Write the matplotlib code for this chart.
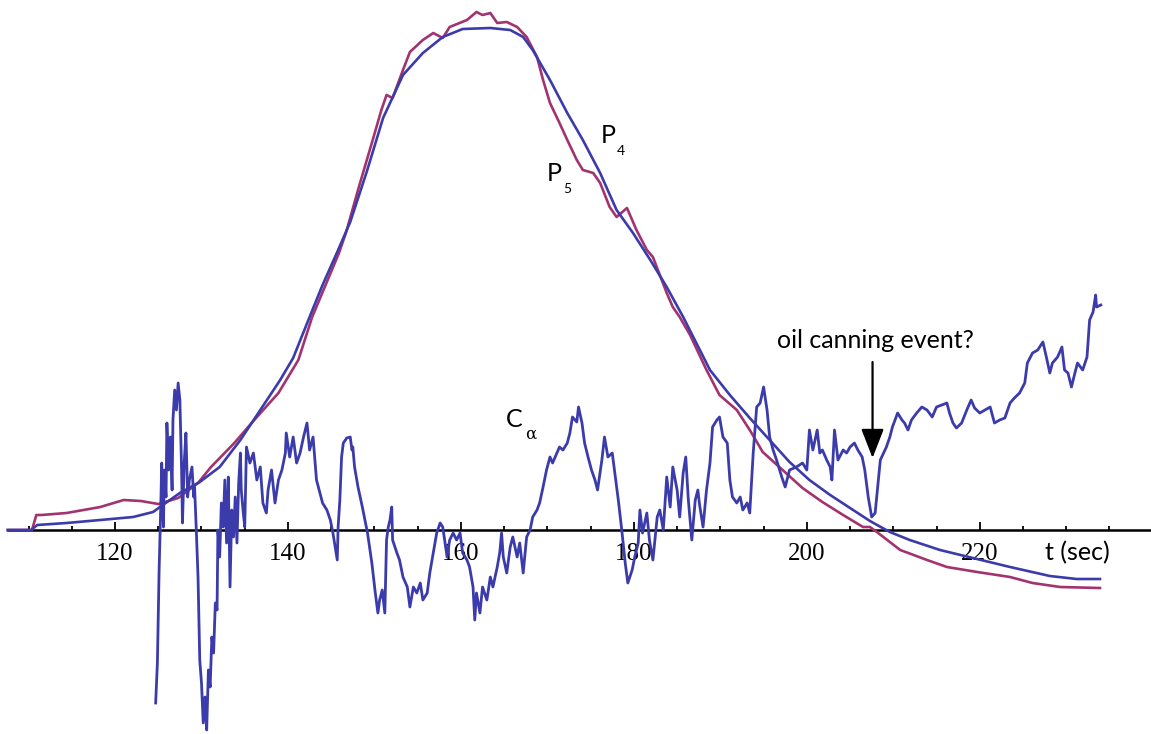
import matplotlib.pyplot as plt
from matplotlib.ticker import MultipleLocator

# pressure traces P4, P5 and the C_alpha signal (arbitrary units) vs time (s)
t_p4 = [107.6, 110.3, 111.0, 114.4, 118.3, 122.1, 124.4, 125.2, 127.5, 129.8,
        132.1, 134.5, 136.8, 139.1, 140.6, 142.5, 144.0, 145.7, 147.2, 149.1,
        151.0, 153.3, 155.6, 157.9, 160.2, 163.4, 165.7, 167.2, 168.3, 170.3,
        172.3, 174.1, 176.1, 178.0, 179.9, 181.9, 183.8, 185.7, 188.8, 191.1,
        193.4, 195.7, 198.0, 200.3, 202.7, 205.0, 207.3, 209.6, 211.9, 215.4,
        219.2, 223.5, 228.1, 231.2, 233.9]
p4 = [0.00, 0.00, 0.05, 0.07, 0.10, 0.13, 0.18, 0.23, 0.37, 0.48,
      0.63, 0.90, 1.20, 1.50, 1.72, 2.13, 2.45, 2.78, 3.08, 3.58,
      4.12, 4.55, 4.77, 4.93, 5.01, 5.02, 5.00, 4.93, 4.80, 4.50,
      4.17, 3.90, 3.57, 3.20, 2.97, 2.70, 2.43, 2.13, 1.60, 1.35,
      1.12, 0.90, 0.68, 0.50, 0.35, 0.22, 0.09, -0.02, -0.10, -0.20,
      -0.28, -0.37, -0.46, -0.49, -0.49]

t_p5 = [107.6, 110.4, 110.9, 111.5, 114.4, 118.3, 121.0, 123.0, 125.0, 127.3,
        129.6, 131.1, 133.8, 136.1, 138.9, 141.2, 142.8, 145.9, 146.7, 148.2,
        149.8, 150.8, 151.4, 152.1, 153.3, 154.1, 155.6, 156.8, 157.9, 158.7,
        160.7, 161.8, 162.5, 163.4, 164.2, 165.3, 166.5, 167.6, 168.8, 169.5,
        170.3, 171.4, 172.3, 173.4, 174.1, 175.3, 176.1, 177.2, 178.0, 179.2,
        180.3, 181.5, 182.2, 183.8, 184.5, 185.3, 186.5, 188.4, 189.9, 191.9,
        193.4, 194.9, 197.2, 199.5, 201.8, 204.2, 206.5, 207.3, 208.1, 209.6,
        210.8, 213.9, 216.2, 219.7, 223.5, 226.1, 229.3, 233.9]
p5 = [0.00, 0.00, 0.15, 0.15, 0.17, 0.23, 0.30, 0.29, 0.26, 0.32,
      0.47, 0.63, 0.87, 1.10, 1.37, 1.70, 2.13, 2.77, 2.97, 3.43,
      3.90, 4.20, 4.35, 4.32, 4.60, 4.78, 4.90, 4.97, 4.92, 5.03,
      5.10, 5.18, 5.15, 5.17, 5.07, 5.08, 5.03, 4.93, 4.73, 4.50,
      4.27, 4.07, 3.90, 3.70, 3.60, 3.57, 3.47, 3.23, 3.13, 3.22,
      3.00, 2.80, 2.73, 2.37, 2.23, 2.13, 1.95, 1.60, 1.35, 1.20,
      1.00, 0.78, 0.60, 0.42, 0.28, 0.15, 0.03, 0.03, -0.02, -0.12,
      -0.20, -0.30, -0.37, -0.42, -0.47, -0.53, -0.57, -0.58]

t_ca = [124.7, 124.9, 125.1, 125.3, 125.4, 125.6, 125.7, 125.9, 126.0, 126.2,
        126.4, 126.6, 126.7, 126.9, 127.1, 127.3, 127.5, 127.7, 127.8, 128.0,
        128.2, 128.4, 128.6, 128.9, 129.1, 129.2, 129.4, 129.6, 129.8, 130.0,
        130.2, 130.4, 130.6, 130.8, 131.0, 131.2, 131.4, 131.6, 131.8, 131.9,
        132.1, 132.3, 132.5, 132.7, 132.9, 133.1, 133.3, 133.5, 133.7, 133.9,
        134.1, 134.3, 134.5, 134.6, 134.8, 135.0, 135.2, 135.6, 136.0, 136.4,
        136.8, 137.1, 137.5, 137.7, 138.1, 138.5, 138.9, 139.3, 139.7, 139.8,
        140.2, 140.6, 141.0, 141.4, 141.8, 142.2, 142.5, 142.9, 143.3, 143.7,
        144.0, 144.5, 144.9, 145.2, 145.7, 145.8, 146.0, 146.2, 146.4, 146.8,
        147.2, 147.4, 147.5, 147.7, 148.1, 148.6, 148.9, 149.2, 149.7, 150.1,
        150.4, 150.6, 150.9, 151.2, 151.4, 151.6, 151.8, 152.0, 152.1, 152.6,
        152.9, 153.3, 153.8, 154.1, 154.5, 154.9, 155.3, 155.6, 156.1, 156.4,
        156.8, 157.2, 157.6, 157.9, 158.4, 158.7, 159.1, 159.5, 159.9, 160.2,
        160.7, 161.0, 161.4, 161.6, 161.8, 162.2, 162.5, 163.0, 163.4, 163.7,
        164.2, 164.5, 164.7, 164.9, 165.3, 165.7, 166.0, 166.5, 166.8, 167.2,
        167.6, 168.0, 168.3, 168.8, 169.1, 169.5, 169.9, 170.3, 170.6, 171.1,
        171.4, 171.8, 172.3, 172.6, 172.9, 173.4, 173.6, 174.0, 174.3, 174.7,
        175.1, 175.5, 175.8, 176.3, 176.6, 177.0, 177.5, 177.8, 178.2, 178.6,
        179.0, 179.3, 179.8, 180.1, 180.5, 180.7, 181.0, 181.5, 181.8, 182.2,
        182.7, 183.0, 183.4, 183.8, 184.2, 184.5, 185.0, 185.3, 185.7, 186.0,
        186.3, 186.7, 187.1, 187.4, 187.6, 188.0, 188.4, 188.8, 189.1, 189.6,
        189.9, 190.3, 190.8, 191.1, 191.4, 191.9, 192.3, 192.6, 193.1, 193.4,
        193.8, 194.2, 194.6, 195.0, 195.4, 195.7, 196.1, 196.5, 197.1, 197.5,
        198.0, 198.8, 199.5, 200.0, 200.3, 200.7, 201.2, 201.5, 201.8, 202.3,
        202.7, 202.9, 203.2, 203.6, 204.2, 204.6, 205.0, 205.5, 205.9, 206.4,
        206.7, 207.1, 207.5, 207.9, 208.2, 208.5, 209.2, 209.6, 209.9, 210.5,
        211.0, 211.3, 211.7, 212.1, 212.7, 213.3, 213.9, 214.5, 215.0, 215.6,
        216.2, 216.5, 216.9, 217.3, 217.9, 218.5, 219.0, 219.4, 220.0, 220.6,
        221.2, 221.7, 222.3, 222.9, 223.5, 224.0, 224.6, 225.2, 225.5, 226.1,
        226.7, 227.3, 227.7, 228.1, 228.4, 229.0, 229.5, 229.8, 230.2, 230.6,
        231.0, 231.3, 231.9, 232.4, 232.7, 233.1, 233.4, 233.5, 234.0]
c_alpha = [-1.73, -1.33, -0.40, 0.27, 0.67, 0.03, 0.60, 0.33, 1.07, 0.60,
           0.93, 0.40, 1.10, 1.40, 1.20, 1.47, 1.30, 0.60, 0.07, 0.67,
           0.97, 0.33, 0.50, 0.63, 0.33, 0.43, 0.00, -0.47, -1.30, -1.53,
           -1.93, -1.67, -2.00, -1.40, -1.57, -1.07, -1.23, -0.73, -0.80, 0.00,
           -0.27, 0.27, 0.03, 0.50, -0.13, 0.53, -0.57, 0.20, -0.07, 0.33,
           -0.13, 0.47, 0.77, 0.40, 0.20, 0.03, 0.83, 0.67, 0.77, 0.50,
           0.63, 0.27, 0.17, 0.40, 0.60, 0.27, 0.50, 0.60, 0.77, 0.97,
           0.73, 0.93, 0.67, 0.77, 0.93, 1.07, 0.80, 0.93, 0.50, 0.37,
           0.27, 0.20, 0.10, -0.03, -0.30, 0.03, 0.30, 0.73, 0.87, 0.92,
           0.93, 0.80, 0.83, 0.63, 0.43, 0.23, 0.10, -0.03, -0.33, -0.63,
           -0.83, -0.70, -0.60, -0.83, -0.10, 0.03, 0.10, 0.23, -0.10, -0.23,
           -0.30, -0.47, -0.57, -0.77, -0.57, -0.63, -0.53, -0.70, -0.63, -0.43,
           -0.23, -0.03, 0.07, 0.03, -0.27, -0.10, -0.03, -0.10, -0.03, -0.23,
           -0.30, -0.37, -0.57, -0.90, -0.63, -0.83, -0.57, -0.70, -0.47, -0.57,
           -0.37, -0.22, -0.03, -0.27, -0.43, -0.17, -0.07, -0.27, -0.13, -0.43,
           -0.07, 0.00, 0.13, 0.20, 0.27, 0.43, 0.60, 0.73, 0.67, 0.77,
           0.83, 0.80, 0.87, 0.97, 1.13, 1.08, 1.23, 1.07, 0.87, 0.73,
           0.60, 0.50, 0.40, 0.70, 0.93, 0.73, 0.77, 0.57, 0.30, 0.00,
           -0.33, -0.53, -0.40, -0.27, -0.13, 0.20, -0.03, 0.17, -0.10, -0.30,
           0.13, 0.20, 0.00, 0.53, 0.23, 0.63, 0.40, 0.13, 0.57, 0.73,
           0.30, -0.10, 0.30, 0.40, 0.25, 0.03, 0.40, 0.67, 1.03, 1.10,
           1.13, 0.93, 0.87, 0.50, 0.33, 0.27, 0.33, 0.20, 0.27, 0.17,
           0.77, 1.23, 1.27, 1.43, 1.20, 0.93, 0.80, 0.70, 0.53, 0.43,
           0.60, 0.63, 0.67, 0.60, 1.00, 0.80, 1.00, 0.77, 0.80, 0.70,
           0.63, 0.50, 1.00, 0.70, 0.80, 0.77, 0.83, 0.87, 0.80, 0.73,
           0.60, 0.33, 0.13, 0.17, 0.43, 0.70, 0.83, 0.93, 1.03, 1.17,
           1.10, 1.07, 1.00, 1.10, 1.17, 1.23, 1.20, 1.13, 1.23, 1.25,
           1.27, 1.17, 1.07, 1.02, 1.07, 1.20, 1.30, 1.22, 1.17, 1.20,
           1.23, 1.07, 1.10, 1.12, 1.27, 1.32, 1.37, 1.47, 1.67, 1.77,
           1.80, 1.88, 1.73, 1.57, 1.67, 1.73, 1.83, 1.60, 1.57, 1.43,
           1.57, 1.67, 1.60, 1.73, 2.10, 2.18, 2.35, 2.23, 2.25]

major_ticks = [120, 140, 160, 180, 200, 220]

BLUE = "#3b3bab"
MAGENTA = "#a3336f"

fig = plt.figure(figsize=(11.51, 7.34), dpi=100)
ax = fig.add_axes([0, 0, 1, 1])
ax.set_xlim(106.7, 239.8)
ax.set_ylim(-2.04, 5.30)

ax.plot(t_p5, p5, color=MAGENTA, lw=1.9, zorder=3)
ax.plot(t_p4, p4, color=BLUE, lw=1.9, zorder=4)
ax.plot(t_ca, c_alpha, color=BLUE, lw=2.0, zorder=5)

# single horizontal axis through zero, ticks pointing up
for side in ("left", "right", "top"):
    ax.spines[side].set_visible(False)
ax.spines["bottom"].set_position(("data", 0))
ax.spines["bottom"].set_bounds(107.6, 239.8)
ax.spines["bottom"].set_linewidth(1.8)
ax.spines["bottom"].set_zorder(2)
ax.set_yticks([])
ax.set_xticks(major_ticks)
ax.xaxis.set_minor_locator(MultipleLocator(5))
ax.tick_params(axis="x", which="major", direction="in", length=5.5, width=1.3,
               pad=9, labelsize=18)
ax.tick_params(axis="x", which="minor", direction="in", length=3.2, width=1.3)
for lab in ax.get_xticklabels():
    lab.set_fontfamily("Liberation Serif")

sans = "Lato"
ax.text(231.3, -0.23, "t (sec)", fontsize=18, family=sans, ha="center", va="center")

ax.text(177.0, 3.94, "P", fontsize=18, family=sans, ha="center", va="center")
ax.text(178.5, 3.79, "4", fontsize=10, family=sans, ha="center", va="center")
ax.text(170.8, 3.56, "P", fontsize=18, family=sans, ha="center", va="center")
ax.text(172.3, 3.41, "5", fontsize=10, family=sans, ha="center", va="center")
ax.text(166.2, 1.10, "C", fontsize=18, family=sans, ha="center", va="center")
ax.text(168.1, 0.96, "α", fontsize=12, family="DejaVu Serif", ha="center", va="center")

ax.text(207.9, 1.89, "oil canning event?", fontsize=18, family=sans,
        ha="center", va="center")
ax.annotate("", xy=(207.6, 0.72), xytext=(207.6, 1.68),
            arrowprops=dict(arrowstyle="-|>,head_length=0.9,head_width=0.35",
                            mutation_scale=20, lw=1.6, color="black",
                            shrinkA=0, shrinkB=0))

fig.savefig("out.png", dpi=100)
